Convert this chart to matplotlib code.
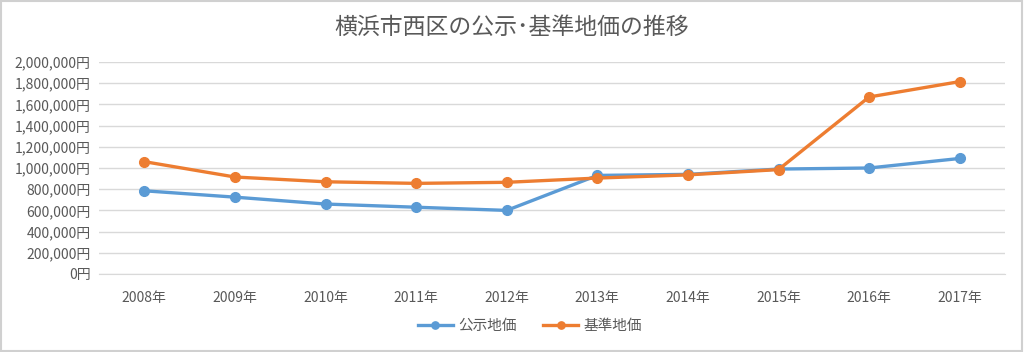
import matplotlib
matplotlib.use("Agg")
import matplotlib.pyplot as plt
from matplotlib.ticker import FuncFormatter, MultipleLocator
from matplotlib.patches import Rectangle

plt.rcParams['font.family'] = ['Noto Sans CJK JP', 'DejaVu Sans']

years = ['2008年', '2009年', '2010年', '2011年', '2012年', '2013年', '2014年', '2015年', '2016年', '2017年']
koji = [785000, 725000, 660000, 630000, 600000, 930000, 940000, 990000, 1000000, 1090000]
kijun = [1060000, 915000, 870000, 855000, 865000, 905000, 935000, 985000, 1670000, 1815000]
series_names = ['公示地価', '基準地価']
title = '横浜市西区の公示･基準地価の推移'

fig = plt.figure(figsize=(10.24, 3.52), dpi=100)
ax = fig.add_axes([99/1024, 1-274/352, 906/1024, 212/352])

x = range(len(years))
ax.plot(x, koji, color='#5B9BD5', lw=2.4, marker='o', ms=7, label=series_names[0], zorder=3)
ax.plot(x, kijun, color='#ED7D31', lw=2.4, marker='o', ms=7, label=series_names[1], zorder=4)

ax.set_xlim(-0.5, len(years)-0.5)
ax.set_ylim(0, 2000000)
ax.yaxis.set_major_locator(MultipleLocator(200000))
ax.yaxis.set_major_formatter(FuncFormatter(lambda v, p: f'{int(v):,}円'))
ax.set_xticks(list(x))
ax.set_xticklabels(years)
ax.grid(axis='y', color='#D9D9D9', lw=1)
ax.set_axisbelow(True)
for s in ax.spines.values():
    s.set_visible(False)
ax.spines['bottom'].set_visible(True)
ax.spines['bottom'].set_color('#D9D9D9')
ax.tick_params(axis='both', length=0, labelsize=10, colors='#595959')
ax.tick_params(axis='y', pad=6)
ax.tick_params(axis='x', pad=12)

fig.text(0.5, 1-27/352, title, ha='center', va='center', fontsize=16.5, color='#595959')

leg = fig.legend(loc='center', bbox_to_anchor=(530/1024, 1-326/352), ncol=2, frameon=False,
                 fontsize=10.5, labelcolor='#595959', handlelength=2.4, columnspacing=1.8,
                 handletextpad=0.4, markerscale=0.75)

fig.patches.append(Rectangle((0.001, 0.003), 0.997, 0.994, transform=fig.transFigure,
                             fill=False, edgecolor='#D0D0D0', lw=1.5))

fig.savefig('out.png', dpi=100)
